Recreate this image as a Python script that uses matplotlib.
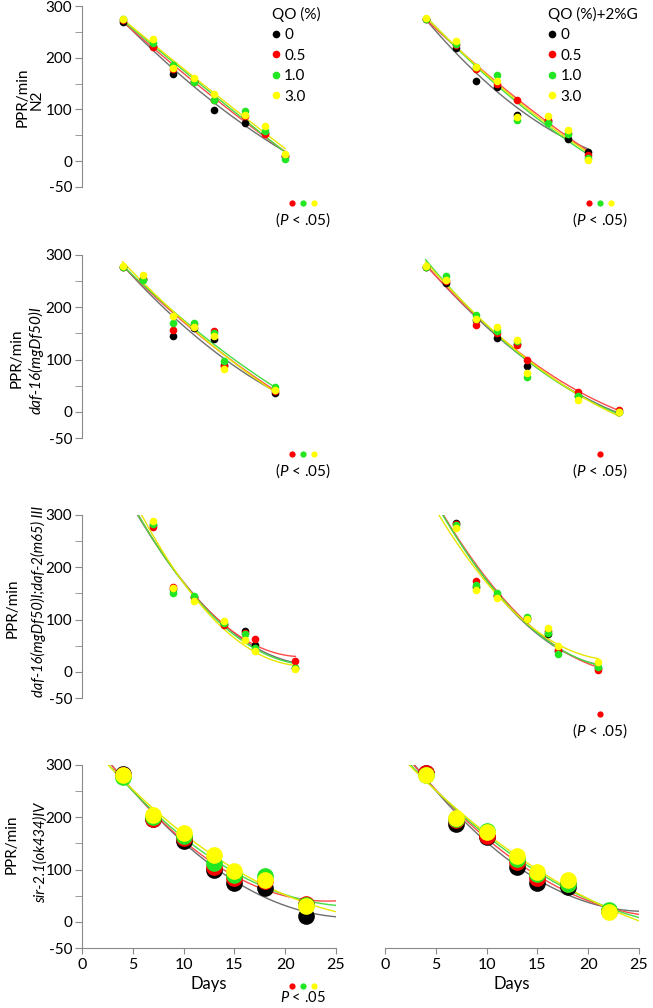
import numpy as np
import matplotlib.pyplot as plt
from matplotlib.lines import Line2D

plt.rcParams['font.family'] = ['Lato', 'DejaVu Sans']
plt.rcParams['mathtext.fontset'] = 'custom'
plt.rcParams['mathtext.rm'] = 'Lato'
plt.rcParams['mathtext.it'] = 'Lato:italic'
plt.rcParams['axes.unicode_minus'] = False

# series: QO 0, 0.5, 1.0, 3.0 (%)
qo_levels = ['0', '0.5', '1.0', '3.0']
dot_colors = ['#000000', '#ff0000', '#22e622', '#ffff00']
line_colors = ['#6e6e6e', '#ff4a4a', '#44dd44', '#e6e600']

# N2
days_n2 = [4, 7, 9, 11, 13, 16, 18, 20]
n2_qo = [[270, 222, 168, 155, 98, 73, 55, 10],
         [273, 220, 178, 153, 118, 88, 52, 10],
         [274, 228, 185, 154, 118, 96, 58, 5],
         [275, 236, 181, 160, 130, 90, 68, 13]]
n2_qo_g = [[274, 218, 155, 144, 90, 78, 43, 18],
           [275, 225, 179, 150, 119, 80, 55, 12],
           [275, 227, 182, 166, 79, 74, 52, 6],
           [276, 232, 183, 155, 86, 88, 61, 2]]

# daf-16(mgDf50)I
days_daf16 = [4, 6, 9, 11, 13, 14, 19]
daf16_qo = [[278, 255, 145, 160, 140, 90, 37],
            [278, 255, 156, 168, 154, 88, 40],
            [278, 253, 170, 170, 150, 97, 47],
            [279, 261, 183, 162, 145, 82, 42]]
days_daf16_g = [4, 6, 9, 11, 13, 14, 19, 23]
daf16_qo_g = [[277, 247, 175, 142, 130, 88, 30, 0],
              [278, 250, 167, 150, 128, 99, 38, 3],
              [278, 260, 185, 154, 135, 66, 31, 0],
              [279, 252, 178, 163, 138, 75, 23, -1]]

# daf-16(mgDf50)I;daf-2(m65)III
days_daf2 = [7, 9, 11, 14, 16, 17, 21]
daf2_qo = [[280, 158, 143, 92, 78, 52, 8],
           [278, 162, 143, 90, 75, 62, 20],
           [283, 150, 145, 94, 73, 45, 8],
           [288, 160, 135, 97, 60, 40, 5]]
daf2_qo_g = [[285, 163, 145, 102, 73, 40, 8],
             [283, 174, 147, 103, 78, 41, 3],
             [280, 167, 150, 105, 75, 34, 10],
             [276, 156, 142, 101, 84, 49, 18]]

# sir-2.1(ok434)IV
days_sir = [4, 7, 10, 13, 15, 18, 22]
sir_qo = [[282, 196, 155, 99, 75, 65, 11],
          [281, 197, 161, 105, 84, 78, 35],
          [278, 200, 165, 113, 89, 87, 32],
          [280, 204, 169, 128, 98, 80, 31]]
sir_qo_g = [[285, 187, 162, 105, 75, 67, 20],
            [284, 195, 164, 115, 83, 72, 20],
            [280, 196, 173, 121, 91, 73, 22],
            [280, 199, 172, 126, 96, 80, 18]]

strains = ['N2', 'daf-16(mgDf50)I', 'daf-16(mgDf50)I;daf-2(m65) III', 'sir-2.1(ok434)IV']

panels = [
    (days_n2, n2_qo, (4, 20), [1, 2, 3]),
    (days_n2, n2_qo_g, (4, 20), [1, 2, 3]),
    (days_daf16, daf16_qo, (4, 19), [1, 2, 3]),
    (days_daf16_g, daf16_qo_g, (4, 23), [1]),
    (days_daf2, daf2_qo, (3, 21), []),
    (days_daf2, daf2_qo_g, (3, 21), [1]),
    (days_sir, sir_qo, (2, 25), [1, 2, 3]),
    (days_sir, sir_qo_g, (2, 25), []),
]

W, H = 653, 1008
fig = plt.figure(figsize=(W / 100, H / 100), dpi=100)

col_x = [82, 385]
col_w = 254
row_y = [(6, 187), (255, 438), (515, 698), (765, 948)]
spine_col = '#8a8a8a'

for i, (days, vals, (lo, hi), sig) in enumerate(panels):
    row, col = divmod(i, 2)
    top, bot = row_y[row]
    ax = fig.add_axes([col_x[col] / W, 1 - bot / H, col_w / W, (bot - top) / H])
    ax.set_xlim(0, 25)
    ax.set_ylim(-50, 300)
    ax.patch.set_alpha(0)

    ms = 12 if row == 3 else 5.5
    x = np.array(days, dtype=float)
    xs = np.linspace(lo, hi, 200)
    for k in range(4):
        coef = np.polyfit(x, np.array(vals[k], dtype=float), 2)
        ax.plot(xs, np.polyval(coef, xs), color=line_colors[k], lw=1.0, zorder=2)
    for k in range(4):
        ax.plot(days, vals[k], 'o', color=dot_colors[k], ms=ms, mec='none',
                zorder=3 + k, clip_on=False)

    for s in ['top', 'right']:
        ax.spines[s].set_visible(False)
    ax.spines['left'].set_color(spine_col)
    ax.spines['bottom'].set_color(spine_col)

    if col == 0:
        ax.set_yticks([300, 200, 100, 0, -50])
        ax.set_yticks([250, 150, 50], minor=True)
        ax.tick_params(axis='y', which='both', direction='out', length=5,
                       color=spine_col, labelsize=11, pad=2)
    else:
        ax.spines['left'].set_visible(False)
        ax.set_yticks([])

    if row == 3:
        ax.set_xticks([0, 5, 10, 15, 20, 25])
        ax.tick_params(axis='x', direction='out', length=4, color=spine_col,
                       labelsize=11.5, pad=3)
        ax.set_xlabel('Days', fontsize=12, labelpad=3)
    else:
        ax.spines['bottom'].set_visible(False)
        ax.set_xticks([])

    if row == 0:
        title = 'QO (%)' if col == 0 else 'QO (%)+2%G'
        lx = 0.748 if col == 0 else 0.642
        lg_handles = [Line2D([], [], ls='none', marker='o', ms=5.5, color=dot_colors[k],
                             mec='none') for k in range(4)]
        ax.legend(lg_handles, qo_levels, title=title, loc='upper left',
                  bbox_to_anchor=(lx, 0.995), frameon=False, fontsize=11,
                  title_fontsize=11, handlelength=0.5, handletextpad=0.3,
                  labelspacing=0.42, borderaxespad=0, borderpad=0,
                  alignment='left')

    # significance markers
    if sig:
        if row == 3:
            dot_y, txt_y, txt, fs = -0.21, -0.272, '$P$ < .05', 10.5
        else:
            dot_y, txt_y, txt, fs = -0.09, -0.18, '($P$ < .05)', 11
        cx = 0.87 if col == 0 else 0.846
        n = len(sig)
        for j, k in enumerate(sig):
            ax.plot(cx + (j - (n - 1) / 2) * 0.042, dot_y, 'o', color=dot_colors[k],
                    ms=4.5, mec='none', transform=ax.transAxes, clip_on=False)
        ax.text(cx, txt_y, txt, transform=ax.transAxes, ha='center', va='center',
                fontsize=fs)

# y labels
ppr_pos = [(23, 97), (17, 358), (13, 608), (12, 844)]
strain_pos = [(37, 100), (36, 360), (38, 601), (41, 853)]
for r in range(4):
    fig.text(ppr_pos[r][0] / W, 1 - ppr_pos[r][1] / H, 'PPR/min', rotation=90,
             ha='center', va='center', fontsize=11)
    fig.text(strain_pos[r][0] / W, 1 - strain_pos[r][1] / H, strains[r], rotation=90,
             ha='center', va='center', fontsize=11 if r < 2 else 10.5,
             style='normal' if r == 0 else 'italic')

fig.savefig('out.png', dpi=100)
